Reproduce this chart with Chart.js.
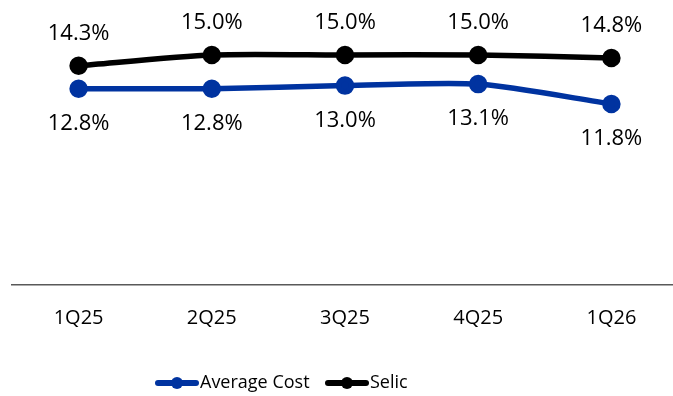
<!DOCTYPE html>
<html>
<head>
<meta charset="utf-8">
<script src="https://cdn.jsdelivr.net/npm/chart.js@4"></script>
<style>
  html, body { margin: 0; padding: 0; background: #fff; overflow: hidden; }
  #wrap { width: 690px; height: 396px; position: relative; }
</style>
</head>
<body>
<div id="wrap"><canvas id="chart"></canvas></div>
<script>
// Chart data
const quarters = ['1Q25', '2Q25', '3Q25', '4Q25', '1Q26'];
const averageCost = [12.8, 12.8, 13.0, 13.1, 11.8];
const selic = [14.3, 15.0, 15.0, 15.0, 14.8];

const FONT = "'Open Sans', sans-serif";
const BLUE = '#0033a0';

// Value labels above (Selic) / below (Average Cost) each point
const valueLabels = {
    id: 'valueLabels',
    afterDatasetsDraw(chart) {
        const ctx = chart.ctx;
        ctx.save();
        ctx.font = '22px ' + FONT;
        ctx.fillStyle = '#000';
        ctx.textAlign = 'center';
        ctx.textBaseline = 'middle';
        chart.data.datasets.forEach((ds, i) => {
            const meta = chart.getDatasetMeta(i);
            const off = ds.label === 'Selic' ? -32 : 35;
            meta.data.forEach((pt, j) => {
                ctx.fillText(ds.data[j].toFixed(1) + '%', pt.x, pt.y + off);
            });
        });
        ctx.restore();
    }
};

// Bottom legend, drawn by hand so it sits left of centre like the original
const bottomLegend = {
    id: 'bottomLegend',
    afterDraw(chart) {
        const ctx = chart.ctx;
        const y = 383;
        const items = [
            { text: 'Average Cost', color: BLUE, x: 155 },
            { text: 'Selic', color: '#000', x: 325 }
        ];
        ctx.save();
        ctx.font = '18px ' + FONT;
        ctx.textBaseline = 'middle';
        items.forEach(it => {
            ctx.strokeStyle = it.color;
            ctx.fillStyle = it.color;
            ctx.lineWidth = 6;
            ctx.lineCap = 'round';
            ctx.beginPath();
            ctx.moveTo(it.x + 3, y);
            ctx.lineTo(it.x + 41, y);
            ctx.stroke();
            ctx.beginPath();
            ctx.arc(it.x + 22, y, 6, 0, Math.PI * 2);
            ctx.fill();
            ctx.fillStyle = '#000';
            ctx.fillText(it.text, it.x + 45, y);
        });
        ctx.restore();
    }
};

new Chart(document.getElementById('chart'), {
    type: 'line',
    data: {
        labels: quarters,
        datasets: [
            {
                label: 'Average Cost',
                data: averageCost,
                borderColor: BLUE,
                backgroundColor: BLUE,
                borderWidth: 5.5,
                pointRadius: 6.5,
                pointHoverRadius: 6.5,
                tension: 0.25
            },
            {
                label: 'Selic',
                data: selic,
                borderColor: '#000',
                backgroundColor: '#000',
                borderWidth: 5.5,
                pointRadius: 6.5,
                pointHoverRadius: 6.5,
                tension: 0.25
            }
        ]
    },
    options: {
        responsive: true,
        maintainAspectRatio: false,
        animation: false,
        layout: { padding: { left: 10, right: 8, top: 6, bottom: 45 } },
        plugins: {
            legend: { display: false },
            tooltip: { enabled: false }
        },
        scales: {
            x: {
                offset: true,
                grid: { display: false, drawTicks: false },
                border: { display: true, color: '#595959', width: 1.5 },
                ticks: { color: '#000', padding: 21, font: { family: FONT, size: 20 } }
            },
            y: {
                display: false,
                min: 0,
                max: 17.8
            }
        }
    },
    plugins: [valueLabels, bottomLegend]
});
</script>
</body>
</html>
